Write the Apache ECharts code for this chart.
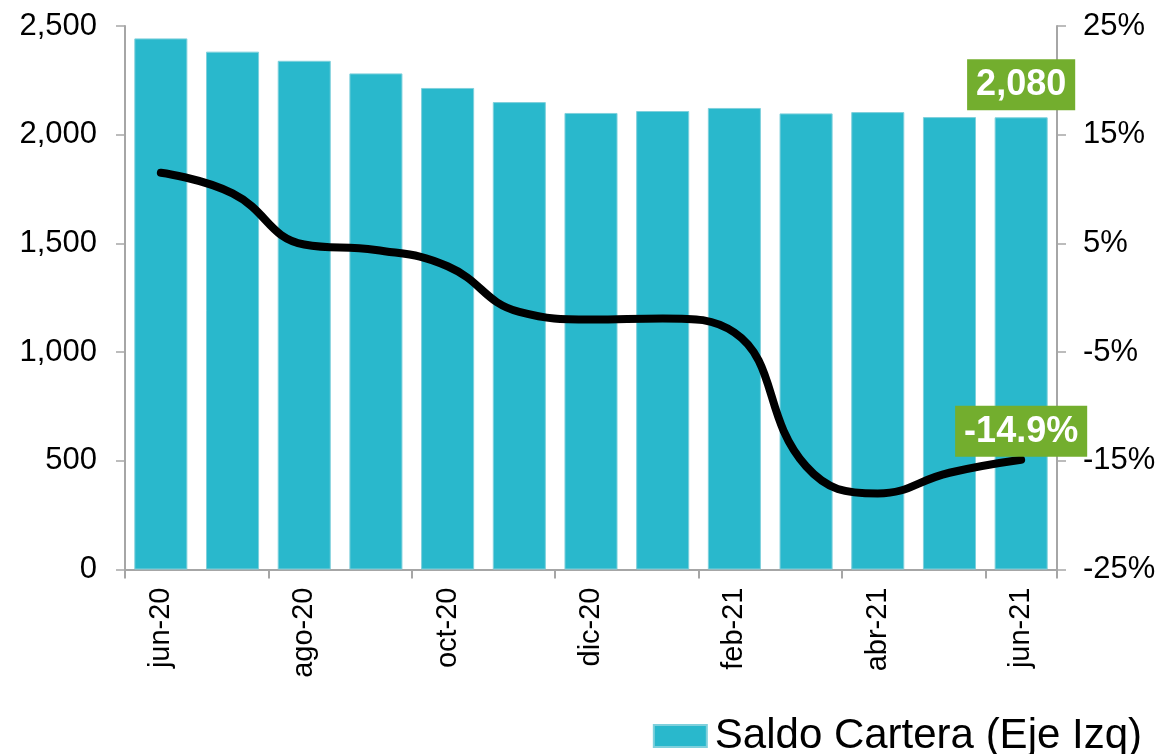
<!DOCTYPE html>
<html>
<head>
<meta charset="utf-8">
<script src="https://cdn.jsdelivr.net/npm/echarts@6/dist/echarts.min.js"></script>
<style>html,body{margin:0;padding:0;background:#fff;}#c{width:1161px;height:754px;}</style>
</head>
<body>
<div id="c"></div>
<script>
const categories = ['jun-20','jul-20','ago-20','sep-20','oct-20','nov-20','dic-20','ene-21','feb-21','mar-21','abr-21','may-21','jun-21'];
const saldoCartera = [2443, 2382, 2340, 2282, 2215, 2150, 2100, 2109, 2123, 2098, 2104, 2081, 2080];
const variacionAnual = [11.5, 9.6, 4.9, 4.4, 2.9, -1.3, -2.0, -1.9, -3.2, -15.5, -18.0, -16.1, -14.9];
const leftTicks = [0, 500, 1000, 1500, 2000, 2500];
const rightTicks = [-25, -15, -5, 5, 15, 25];

const FONT = '"Liberation Sans", Arial, sans-serif';
const BAR = '#29B8CC';
const GREEN = '#73AE2E';
const AXIS = '#A6A6A6';
const last = categories.length - 1;

const boxLabel = {
  show: true,
  position: 'top',
  color: '#fff',
  backgroundColor: GREEN,
  fontFamily: FONT,
  fontWeight: 'bold',
  fontSize: 36,
  lineHeight: 38,
  padding: [7, 9, 6, 9]
};

const barData = saldoCartera.map((v, i) => i === last ? {
  value: v,
  label: Object.assign({}, boxLabel, { distance: 7, formatter: p => p.value.toLocaleString('en-US') })
} : v);

const lineData = variacionAnual.map((v, i) => i === last ? {
  value: v,
  label: Object.assign({}, boxLabel, { distance: 3, offset: [-7, 0], formatter: p => p.value.toFixed(1) + '%' })
} : v);

const chart = echarts.init(document.getElementById('c'), null, { renderer: 'canvas' });
chart.setOption({
  animation: false,
  backgroundColor: '#fff',
  grid: { left: 125, right: 104, top: 26, bottom: 184.5, containLabel: false },
  legend: {
    data: ['Saldo Cartera (Eje Izq)'],
    right: 14,
    top: 710,
    itemWidth: 53,
    itemHeight: 22,
    icon: 'rect',
    itemGap: 0,
    textStyle: { fontFamily: FONT, fontSize: 42, color: '#000', padding: [0, 0, 0, 3] }
  },
  xAxis: {
    type: 'category',
    data: categories,
    axisLine: { lineStyle: { color: AXIS, width: 2 } },
    axisTick: { show: true, interval: 1, length: 9, lineStyle: { color: AXIS, width: 2 } },
    axisLabel: {
      interval: 1, rotate: 90, margin: 18,
      fontFamily: FONT, fontSize: 29, color: '#000'
    },
    splitLine: { show: false }
  },
  yAxis: [
    {
      type: 'value', min: leftTicks[0], max: leftTicks[leftTicks.length - 1], interval: 500,
      position: 'left',
      axisLine: { show: true, lineStyle: { color: AXIS, width: 2 } },
      axisTick: { show: true, length: 9, lineStyle: { color: AXIS, width: 1.5 } },
      axisLabel: {
        margin: 28, fontFamily: FONT, fontSize: 31, color: '#000',
        formatter: v => v.toLocaleString('en-US')
      },
      splitLine: { show: false }
    },
    {
      type: 'value', min: rightTicks[0], max: rightTicks[rightTicks.length - 1], interval: 10,
      position: 'right',
      axisLine: { show: true, lineStyle: { color: AXIS, width: 2 } },
      axisTick: { show: true, length: 9, lineStyle: { color: AXIS, width: 1.5 } },
      axisLabel: {
        margin: 26, fontFamily: FONT, fontSize: 31, color: '#000',
        formatter: v => v + '%'
      },
      splitLine: { show: false }
    }
  ],
  series: [
    {
      name: 'Saldo Cartera (Eje Izq)',
      type: 'bar',
      yAxisIndex: 0,
      data: barData,
      barCategoryGap: '26%',
      itemStyle: { color: BAR, borderColor: '#7fd0dc', borderWidth: 1 },
      label: { show: false }
    },
    {
      name: 'Var. % anual (Eje Der)',
      type: 'line',
      yAxisIndex: 1,
      data: lineData,
      smooth: 0.45,
      symbol: 'circle',
      symbolSize: 0,
      showSymbol: true,
      lineStyle: { color: '#000', width: 8, cap: 'round', join: 'round' },
      itemStyle: { color: '#000' },
      label: { show: false },
      labelLayout: { hideOverlap: false },
      z: 5
    }
  ]
});
</script>
</body>
</html>
